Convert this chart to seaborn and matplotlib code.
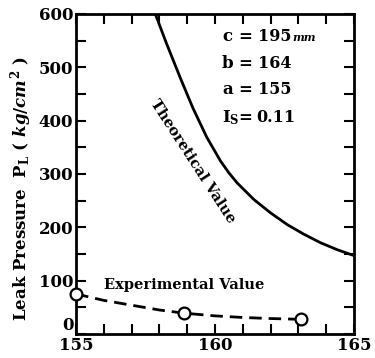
import numpy as np
import pandas as pd
import matplotlib
matplotlib.use("Agg")
import matplotlib.pyplot as plt
import seaborn as sns
from matplotlib.ticker import MultipleLocator

# theoretical curve
theo_x = [157.85, 158.25, 158.75, 159.2, 159.7, 160.2, 160.5, 160.8, 161.4,
          162.0, 162.6, 163.2, 163.8, 164.4, 165.0]
theo_y = [600, 545, 480, 424, 369, 324, 302, 283, 252, 227, 205, 187, 171,
          158, 147]

# experimental values and the dashed fitted line through them
exp_x = [155.0, 158.9, 163.1]
exp_y = [75, 39, 27.5]
fit_x = [155.0, 156.0, 157.0, 158.0, 158.9, 160.0, 161.0, 162.0, 163.1]
fit_y = [75, 63, 54, 45, 39, 34, 31, 29, 27.5]

params = [("c", "195"), ("b", "164"), ("a", "155")]

sns.set_theme(style="ticks")
plt.rcParams["font.family"] = ["DejaVu Serif"]
plt.rcParams["font.weight"] = "bold"
plt.rcParams["mathtext.fontset"] = "custom"
plt.rcParams["mathtext.rm"] = "DejaVu Serif:bold"
plt.rcParams["mathtext.it"] = "DejaVu Serif:italic:bold"
for k in ["text.color", "axes.labelcolor", "xtick.color", "ytick.color",
          "axes.edgecolor"]:
    plt.rcParams[k] = "black"

fig = plt.figure(figsize=(3.75, 3.58), dpi=100)
ax = fig.add_axes([0.203, 0.067, 0.741, 0.894])

df_theo = pd.DataFrame({"x": theo_x, "y": theo_y})
df_fit = pd.DataFrame({"x": fit_x, "y": fit_y})

sns.lineplot(data=df_theo, x="x", y="y", ax=ax, color="black", lw=2.0)
sns.lineplot(data=df_fit, x="x", y="y", ax=ax, color="black", lw=2.0,
             linestyle=(0, (4.5, 2.5)))
ax.plot(exp_x, exp_y, "o", ms=8.5, mfc="white", mec="black", mew=1.6,
        clip_on=False, zorder=5)

ax.set_xlim(155, 165)
ax.set_ylim(0, 600)
ax.xaxis.set_major_locator(MultipleLocator(5))
ax.xaxis.set_minor_locator(MultipleLocator(1))
ax.set_yticks([0, 100, 200, 300, 400, 500, 600])
ax.set_yticklabels(["0", "100", "200", "300", "400", "500", "600"])
ax.yaxis.set_minor_locator(MultipleLocator(50))
ax.tick_params(which="both", direction="in", top=True, right=True,
               length=7, width=1.5, labelsize=12, pad=2)
for lab in ax.get_xticklabels() + ax.get_yticklabels():
    lab.set_fontweight("bold")
ax.get_yticklabels()[0].set_verticalalignment("bottom")
for s in ax.spines.values():
    s.set_linewidth(2)

ax.set_xlabel("")
ax.set_ylabel(r"Leak Pressure  P$_{\mathrm{L}}$ ( $\mathit{kg/cm^{2}}$ )",
              fontsize=12, fontweight="bold")
ax.yaxis.set_label_coords(-0.152, 0.455)

ax.text(156.0, 92, "Experimental Value", fontsize=10.5, fontweight="bold",
        ha="left", va="center")
ax.text(159.2, 324, "Theoretical Value", fontsize=10.5, fontweight="bold",
        rotation=-57, rotation_mode="anchor", ha="center", va="center")

ys = [557, 508, 458]
for (k, v), yy in zip(params, ys):
    ax.text(160.25, yy, k, fontsize=12, ha="left", va="center")
    ax.text(160.85, yy, "=", fontsize=12, ha="left", va="center")
    ax.text(161.55, yy, v, fontsize=11.5, ha="left", va="center")
ax.text(162.8, 555, "mm", fontsize=8, style="italic", ha="left", va="center")
ax.text(160.25, 405, r"I$_{\mathrm{S}}$", fontsize=12, ha="left", va="center")
ax.text(160.85, 405, "=", fontsize=12, ha="left", va="center")
ax.text(161.5, 405, "0.11", fontsize=11.5, ha="left", va="center")

fig.savefig("out.png", dpi=100, facecolor="white")
